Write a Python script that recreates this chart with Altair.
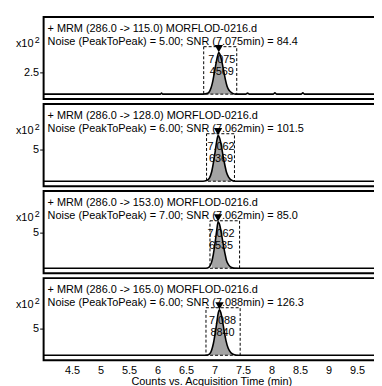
import altair as alt
import pandas as pd

FONT = "Liberation Sans"
X_DOMAIN = [4.0, 9.886]
x_ticks = [4.5, 5, 5.5, 6, 6.5, 7, 7.5, 8, 8.5, 9, 9.5]

transitions = ["286.0 -> 115.0", "286.0 -> 128.0", "286.0 -> 153.0", "286.0 -> 165.0"]
noise = ["5.00", "6.00", "7.00", "6.00"]
rt_labels = ["7.075", "7.062", "7.062", "7.088"]
rt = [7.075, 7.062, 7.062, 7.088]
snr = ["84.4", "101.5", "85.0", "126.3"]
areas = ["4569", "6369", "6535", "8840"]
int_start = [6.81, 6.86, 6.92, 6.85]
int_end = [7.39, 7.35, 7.44, 7.45]
box_top = [5.45, 7.5, 6.67, 8.9]
apex = [4.77, 7.2, 6.53, 8.5]
y_domains = [[-0.57, 8.86], [-0.78, 12.19], [-0.69, 10.84], [-0.93, 14.44]]
y_ticks = [[2.5], [5], [5], [5]]

# traces (time in min, counts in x10^2)
t1 = [4.0, 6.05, 6.07, 6.09, 6.80, 6.88, 6.92, 6.96, 6.99, 7.02, 7.05, 7.075, 7.10, 7.13,
      7.16, 7.19, 7.22, 7.26, 7.31, 7.37, 7.55, 7.58, 7.61, 8.03, 8.06, 8.09, 8.52, 8.55, 8.58, 9.886]
v1 = [0, 0, 0.12, 0, 0, 0.1, 0.4, 1.2, 2.2, 3.3, 4.3, 4.77, 4.5, 3.7,
      2.7, 1.7, 0.9, 0.4, 0.12, 0, 0, 0.12, 0, 0, 0.15, 0, 0, 0.15, 0, 0]
t2 = [4.0, 6.80, 6.86, 6.91, 6.95, 6.98, 7.01, 7.04, 7.062, 7.09, 7.12, 7.15, 7.18, 7.21,
      7.25, 7.30, 7.37, 9.886]
v2 = [0, 0, 0.1, 0.5, 1.5, 2.9, 4.6, 6.4, 7.2, 6.8, 5.6, 4.0, 2.6, 1.4,
      0.6, 0.15, 0, 0]
t3 = [4.0, 6.85, 6.91, 6.95, 6.98, 7.01, 7.04, 7.062, 7.09, 7.12, 7.15, 7.18, 7.21, 7.25,
      7.30, 7.37, 9.886]
v3 = [0, 0, 0.2, 0.9, 2.0, 3.6, 5.4, 6.53, 6.1, 4.9, 3.5, 2.2, 1.1, 0.45,
      0.12, 0, 0]
t4 = [4.0, 6.85, 6.91, 6.95, 6.98, 7.01, 7.04, 7.06, 7.088, 7.11, 7.14, 7.17, 7.20, 7.24,
      7.29, 7.35, 7.42, 9.886]
v4 = [0, 0, 0.2, 1.0, 2.2, 4.0, 6.1, 7.6, 8.5, 8.0, 6.4, 4.5, 2.8, 1.3,
      0.45, 0.1, 0, 0]
times = [t1, t2, t3, t4]
vals = [v1, v2, v3, v4]

W, H = 339, 83
one = pd.DataFrame({"a": [0]})


def panel(i, show_x):
    tr = pd.DataFrame({"t": times[i], "v": vals[i]})
    pk = tr[(tr.t >= int_start[i]) & (tr.t <= int_end[i])]
    xs = alt.Scale(domain=X_DOMAIN, nice=False, zero=False)
    ys = alt.Scale(domain=y_domains[i], nice=False, zero=False)
    if show_x:
        xax = alt.Axis(values=x_ticks, labelExpr="'' + datum.value", title="Counts vs. Acquisition Time (min)",
                       labelFontSize=11, titleFontSize=11, titleFontWeight="normal",
                       ticks=False, domain=False, grid=False, labelPadding=4, titlePadding=1,
                       labelColor="black", titleColor="black", labelFont=FONT, titleFont=FONT)
    else:
        xax = None
    yax = alt.Axis(values=y_ticks[i], labelExpr="'' + datum.value", title=None, grid=False, domain=False,
                   tickSize=4, tickColor="black", tickWidth=1, labelFontSize=11,
                   labelPadding=1, labelColor="black", labelFont=FONT)

    def X(f):
        return alt.X(f + ":Q", scale=xs, axis=xax)

    def Y(f):
        return alt.Y(f + ":Q", scale=ys, axis=yax)

    area = alt.Chart(pk).mark_area(color="#7d7d7d", opacity=0.7, interpolate="monotone").encode(
        x=X("t"), y=Y("v"))
    line = alt.Chart(tr).mark_line(color="black", strokeWidth=1.6, interpolate="monotone").encode(
        x=X("t"), y=Y("v"))
    box = alt.Chart(pd.DataFrame({"x0": [int_start[i]], "x1": [int_end[i]],
                                  "y0": [0.0], "y1": [box_top[i]]})).mark_rect(
        fill=None, fillOpacity=0, stroke="black", strokeWidth=1, strokeDash=[3, 2]).encode(
        x=X("x0"), x2="x1", y=Y("y0"), y2="y1")
    tri = alt.Chart(pd.DataFrame({"t": [rt[i]], "v": [apex[i]]})).mark_point(
        shape="triangle-down", filled=True, color="black", size=70, opacity=1, yOffset=-4).encode(
        x=X("t"), y=Y("v"))
    lab = pd.DataFrame({"t": [rt[i]], "v": [box_top[i]], "rt": [rt_labels[i]], "ar": [areas[i]]})
    txt1 = alt.Chart(lab).mark_text(fontSize=11, font=FONT, color="black", dx=3, dy=13,
                                    baseline="middle").encode(x=X("t"), y=Y("v"), text="rt:N")
    txt2 = alt.Chart(lab).mark_text(fontSize=11, font=FONT, color="black", dx=3, dy=26,
                                    baseline="middle").encode(x=X("t"), y=Y("v"), text="ar:N")
    head1 = alt.Chart(one).mark_text(align="left", baseline="middle", fontSize=11, font=FONT,
                                     color="black").encode(
        x=alt.value(4), y=alt.value(12), text=alt.value(f"+ MRM ({transitions[i]}) MORFLOD-0216.d"))
    head2 = alt.Chart(one).mark_text(align="left", baseline="middle", fontSize=11, font=FONT,
                                     color="black").encode(
        x=alt.value(4), y=alt.value(25),
        text=alt.value(f"Noise (PeakToPeak) = {noise[i]}; SNR ({rt_labels[i]}min) = {snr[i]}"))
    mult = alt.Chart(one).mark_text(align="left", baseline="middle", fontSize=11, font=FONT,
                                    color="black").encode(
        x=alt.value(-28), y=alt.value(27), text=alt.value("x10"))
    sup = alt.Chart(one).mark_text(align="left", baseline="middle", fontSize=9, font=FONT,
                                   color="black").encode(
        x=alt.value(-9), y=alt.value(23), text=alt.value("2"))
    return alt.layer(area, txt1, txt2, line, box, tri, head1, head2, mult, sup).properties(
        width=W, height=H)


panels = [panel(i, i == 3) for i in range(4)]
chart = alt.vconcat(*panels, spacing=3).properties(
    padding={"left": 7, "top": 6, "right": -10, "bottom": 0}
).configure_view(stroke="black", strokeWidth=2).configure_concat(spacing=3)

chart.save("out.html", embed_options={"renderer": "svg", "actions": False})
